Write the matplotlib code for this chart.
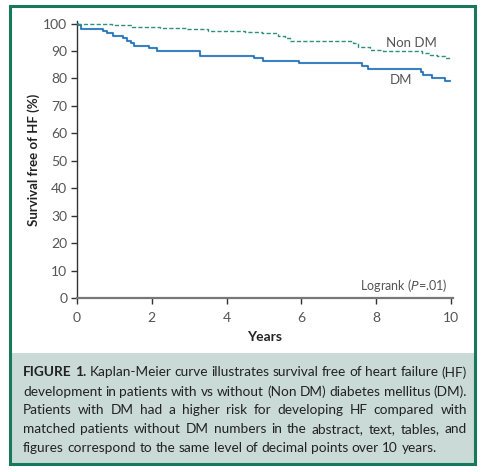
import matplotlib
matplotlib.use("Agg")
import matplotlib.pyplot as plt
from matplotlib.patches import Rectangle

plt.rcParams['font.family'] = ['Lato', 'DejaVu Sans']

# ---- data ----
dm_time = [0, 0.03, 0.12, 0.69, 0.80, 0.95, 1.24, 1.33, 1.43, 1.52, 1.93, 2.13,
           3.30, 4.73, 4.98, 5.93, 7.61, 7.77, 9.20, 9.24, 9.50, 9.84, 9.97]
dm_surv = [100, 99.3, 98.0, 97.3, 96.4, 95.5, 94.6, 93.7, 92.8, 91.9, 91.0, 90.1,
           88.3, 87.4, 86.4, 85.6, 84.6, 83.6, 82.4, 81.2, 80.3, 79.2, 79.2]
nondm_time = [0, 0.93, 1.46, 2.22, 2.93, 3.51, 4.49, 4.94, 5.38, 5.56, 5.70,
              7.39, 7.52, 7.83, 8.19, 9.21, 9.44, 9.62, 9.84, 9.97]
nondm_surv = [100, 99.5, 98.9, 98.5, 97.9, 97.3, 96.9, 96.5, 95.3, 94.7, 93.7,
              92.9, 91.3, 90.5, 89.9, 89.3, 88.7, 88.1, 87.5, 87.5]
x_ticks = [0, 2, 4, 6, 8, 10]
x_ticklabels = ["0", "2", "4", "6", "8", "10"]
y_ticks = [0, 10, 20, 30, 40, 50, 60, 70, 80, 90, 100]
y_ticklabels = [str(v) for v in y_ticks]

caption_lines = [
    [("FIGURE 1.", True), ("Kaplan-Meier curve illustrates survival free of heart failure (HF)", False)],
    [("development in patients with vs without (Non DM) diabetes mellitus (DM).", False)],
    [("Patients with DM had a higher risk for developing HF compared with", False)],
    [("matched patients without DM numbers in the abstract, text, tables, and", False)],
    [("figures correspond to the same level of decimal points over 10 years.", False)],
]

W, H = 483, 472
fig = plt.figure(figsize=(W / 100, H / 100), dpi=100)

def fx(px):
    return px / W

def fy(py):
    return 1 - py / H

GREEN = "#17785c"
CAP_BG = "#cadad6"
TICK_COL = "#555555"

# caption background
fig.patches.append(Rectangle((fx(10), fy(464)), fx(465), (464 - 353) / H,
                             transform=fig.transFigure, facecolor=CAP_BG,
                             edgecolor="none", zorder=0))
# outer frame
fig.patches.append(Rectangle((fx(10), fy(464)), fx(465), (464 - 6) / H,
                             transform=fig.transFigure, facecolor="none",
                             edgecolor=GREEN, linewidth=2.2, zorder=5))

# axes
ax = fig.add_axes([fx(77), fy(298), fx(453 - 77), (298 - 20.8) / H])
ax.step(dm_time, dm_surv, where="post", color="#9cc6e6", lw=1.6, zorder=2)
ax.step(dm_time, dm_surv, where="post", color="#1f6db5", lw=1.1, zorder=3)
ax.step(nondm_time, nondm_surv, where="post", color="#2e9077", lw=1.0,
        linestyle=(0, (3, 1.6)), zorder=3)

ax.set_xlim(0, 10.05)
ax.set_ylim(0, 101)
ax.set_xticks(x_ticks)
ax.set_xticklabels(x_ticklabels)
ax.set_yticks(y_ticks)
ax.set_yticklabels(y_ticklabels)
for s in ["top", "right"]:
    ax.spines[s].set_visible(False)
ax.spines["left"].set_color("#333333")
ax.spines["left"].set_linewidth(1.0)
ax.spines["bottom"].set_color("#777777")
ax.spines["bottom"].set_linewidth(1.6)
ax.tick_params(axis="both", direction="out", length=4, width=1.0,
               color="#333333", labelcolor=TICK_COL, labelsize=10)
ax.tick_params(axis="x", pad=6)
ax.tick_params(axis="y", pad=3)
ax.set_xlabel("Years", fontsize=10, fontweight="bold", color="#222222", labelpad=5)
ax.set_ylabel("Survival free of HF (%)", fontsize=9.5, fontweight="bold",
              color="#222222", labelpad=2)

ax.text(8.25, 92.8, "Non DM", ha="left", va="center", fontsize=9.5, color=TICK_COL)
ax.text(8.66, 79.3, "DM", ha="center", va="center", fontsize=9.5, color=TICK_COL)
ax.text(9.9, 4.5, r"Logrank ($\mathit{P}$=.01)", ha="right", va="center",
        fontsize=9, color=TICK_COL)

# caption, justified
fig.canvas.draw()
renderer = fig.canvas.get_renderer()
left_px, right_px = 23, 467
line_y = [372.5, 391.5, 410.5, 429, 447.5]
fs = 9.8

def wwidth(txt, bold):
    t = fig.text(0, 0, txt, fontsize=fs, fontweight="bold" if bold else "normal")
    w = t.get_window_extent(renderer).width
    t.remove()
    return w

for i, segs in enumerate(caption_lines):
    words = []
    for txt, bold in segs:
        for w in txt.split(" "):
            words.append((w, bold))
    widths = [wwidth(w, b) for w, b in words]
    space = wwidth("a a", False) - wwidth("aa", False)
    if i < len(caption_lines) - 1 and len(words) > 1:
        gap = (right_px - left_px - sum(widths)) / (len(words) - 1)
    else:
        gap = space
    x = left_px
    for (w, b), wd in zip(words, widths):
        fig.text(fx(x), fy(line_y[i]), w, fontsize=fs,
                 fontweight="bold" if b else "normal", color="#222222",
                 ha="left", va="center")
        x += wd + gap

fig.savefig("out.png", dpi=100)
